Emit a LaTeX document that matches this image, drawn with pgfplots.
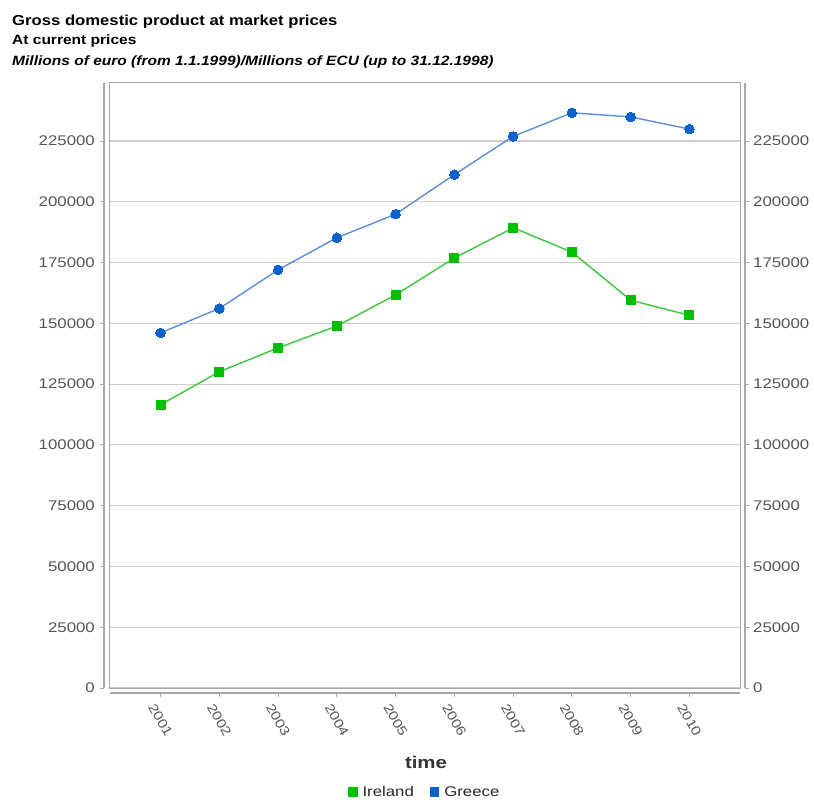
\documentclass[border=0pt]{standalone}
\usepackage{fontspec}
\setmainfont{Liberation Sans}
\newfontfamily\sfont[FakeStretch=1.2]{Liberation Sans}
\newfontfamily\tfont[FakeStretch=1.15]{Liberation Sans}
\usepackage{pgfplots}
\pgfplotsset{compat=1.18}

\definecolor{irgreen}{HTML}{00BE00}
\definecolor{irline}{HTML}{3CC83C}
\definecolor{grblue}{HTML}{0A62CA}
\definecolor{grline}{HTML}{5A8ED6}
\definecolor{axgray}{HTML}{A8A8A8}
\definecolor{gridgray}{HTML}{CDCDCD}
\definecolor{labgray}{HTML}{555555}

\pgfplotsset{common/.style={
  scale only axis, width=630pt, height=605pt,
  xmin=2000.14, xmax=2010.86, ymin=0, ymax=248860,
  anchor=south west,
  /pgf/number format/fixed,
  /pgf/number format/1000 sep={},
  /pgf/number format/assume math mode=true,
  ytick={0,25000,...,225000},
  xtick={2001,...,2010},
  scaled y ticks=false,
  ticklabel style={font=\sfont\fontsize{14}{14}\selectfont, text=labgray},
  axis line style={-, draw=axgray, line width=1.5pt},
  major tick length=4pt, tick align=outside,
  tick style={draw=axgray, line width=1pt},
}}

\begin{document}
\begin{tikzpicture}
\useasboundingbox (-110pt,-113pt) rectangle (704pt,688pt);

% main plot box
\begin{axis}[common, at={(0,0)},
  axis line style={-, draw=axgray, line width=1pt},
  ymajorgrids, grid style={draw=gridgray, line width=1.2pt},
  xtick=\empty, yticklabels={}, major tick length=0pt,
  tick style={draw=none},
  legend columns=2,
  legend style={at={(0.498,-0.1720)}, anchor=center, draw=none, fill=none,
    font=\sfont\fontsize{14}{14}\selectfont, text=black!85,
    nodes={inner sep=0pt},
    /tikz/every odd column/.append style={column sep=5pt},
    /tikz/every even column/.append style={column sep=16pt},
    inner sep=0pt},
]
\addplot[irline, line width=1.4pt, mark=square*, mark size=4.5pt,
  mark options={fill=irgreen, draw=irgreen, line width=0pt},
  legend image code/.code={\fill[irgreen] (0pt,-4pt) rectangle (8pt,4pt);}]
  coordinates {(2001,116500) (2002,130100) (2003,139900) (2004,148900) (2005,161700)
   (2006,176900) (2007,189300) (2008,179300) (2009,159500) (2010,153300)};
\addlegendentry{Ireland}
\addplot[grline, line width=1.4pt, mark=*, mark size=4.8pt,
  mark options={fill=grblue, draw=grblue, line width=0pt},
  legend image code/.code={\fill[grblue] (0pt,-4pt) rectangle (8pt,4pt);}]
  coordinates {(2001,146100) (2002,156100) (2003,172000) (2004,185200) (2005,194900)
   (2006,211200) (2007,226900) (2008,236600) (2009,234900) (2010,229900)};
\addlegendentry{Greece}
\end{axis}

% left outer axis line
\begin{axis}[common, at={(-6pt,0)}, axis y line*=left, axis x line=none,
  xtick=\empty,
  yticklabel style={anchor=east, inner sep=0pt, xshift=-5pt}]
\end{axis}

% right outer axis line
\begin{axis}[common, at={(5pt,0)}, axis y line*=right, axis x line=none,
  xtick=\empty,
  yticklabel style={anchor=west, inner sep=0pt, xshift=4pt}]
\end{axis}

% bottom outer axis line
\begin{axis}[common, at={(0,-5pt)}, axis x line*=bottom, axis y line=none,
  ytick=\empty,
  xticklabel style={yshift=-23pt, rotate=-60, anchor=center, inner sep=0pt,
    font=\sfont\fontsize{13}{13}\selectfont}]
\end{axis}

\node[font=\sfont\bfseries\fontsize{17}{17}\selectfont, text=black!80] at (316pt,-74pt) {time};

\node[anchor=base west, inner sep=0pt, font=\tfont\bfseries\fontsize{14.5}{14.5}\selectfont] at (-98pt,662pt) {Gross domestic product at market prices};
\node[anchor=base west, inner sep=0pt, font=\tfont\bfseries\fontsize{13.5}{13.5}\selectfont] at (-98pt,643pt) {At current prices};
\node[anchor=base west, inner sep=0pt, font=\tfont\bfseries\itshape\fontsize{13.5}{13.5}\selectfont] at (-98pt,622pt) {Millions of euro (from 1.1.1999)/Millions of ECU (up to 31.12.1998)};
\end{tikzpicture}
\end{document}
